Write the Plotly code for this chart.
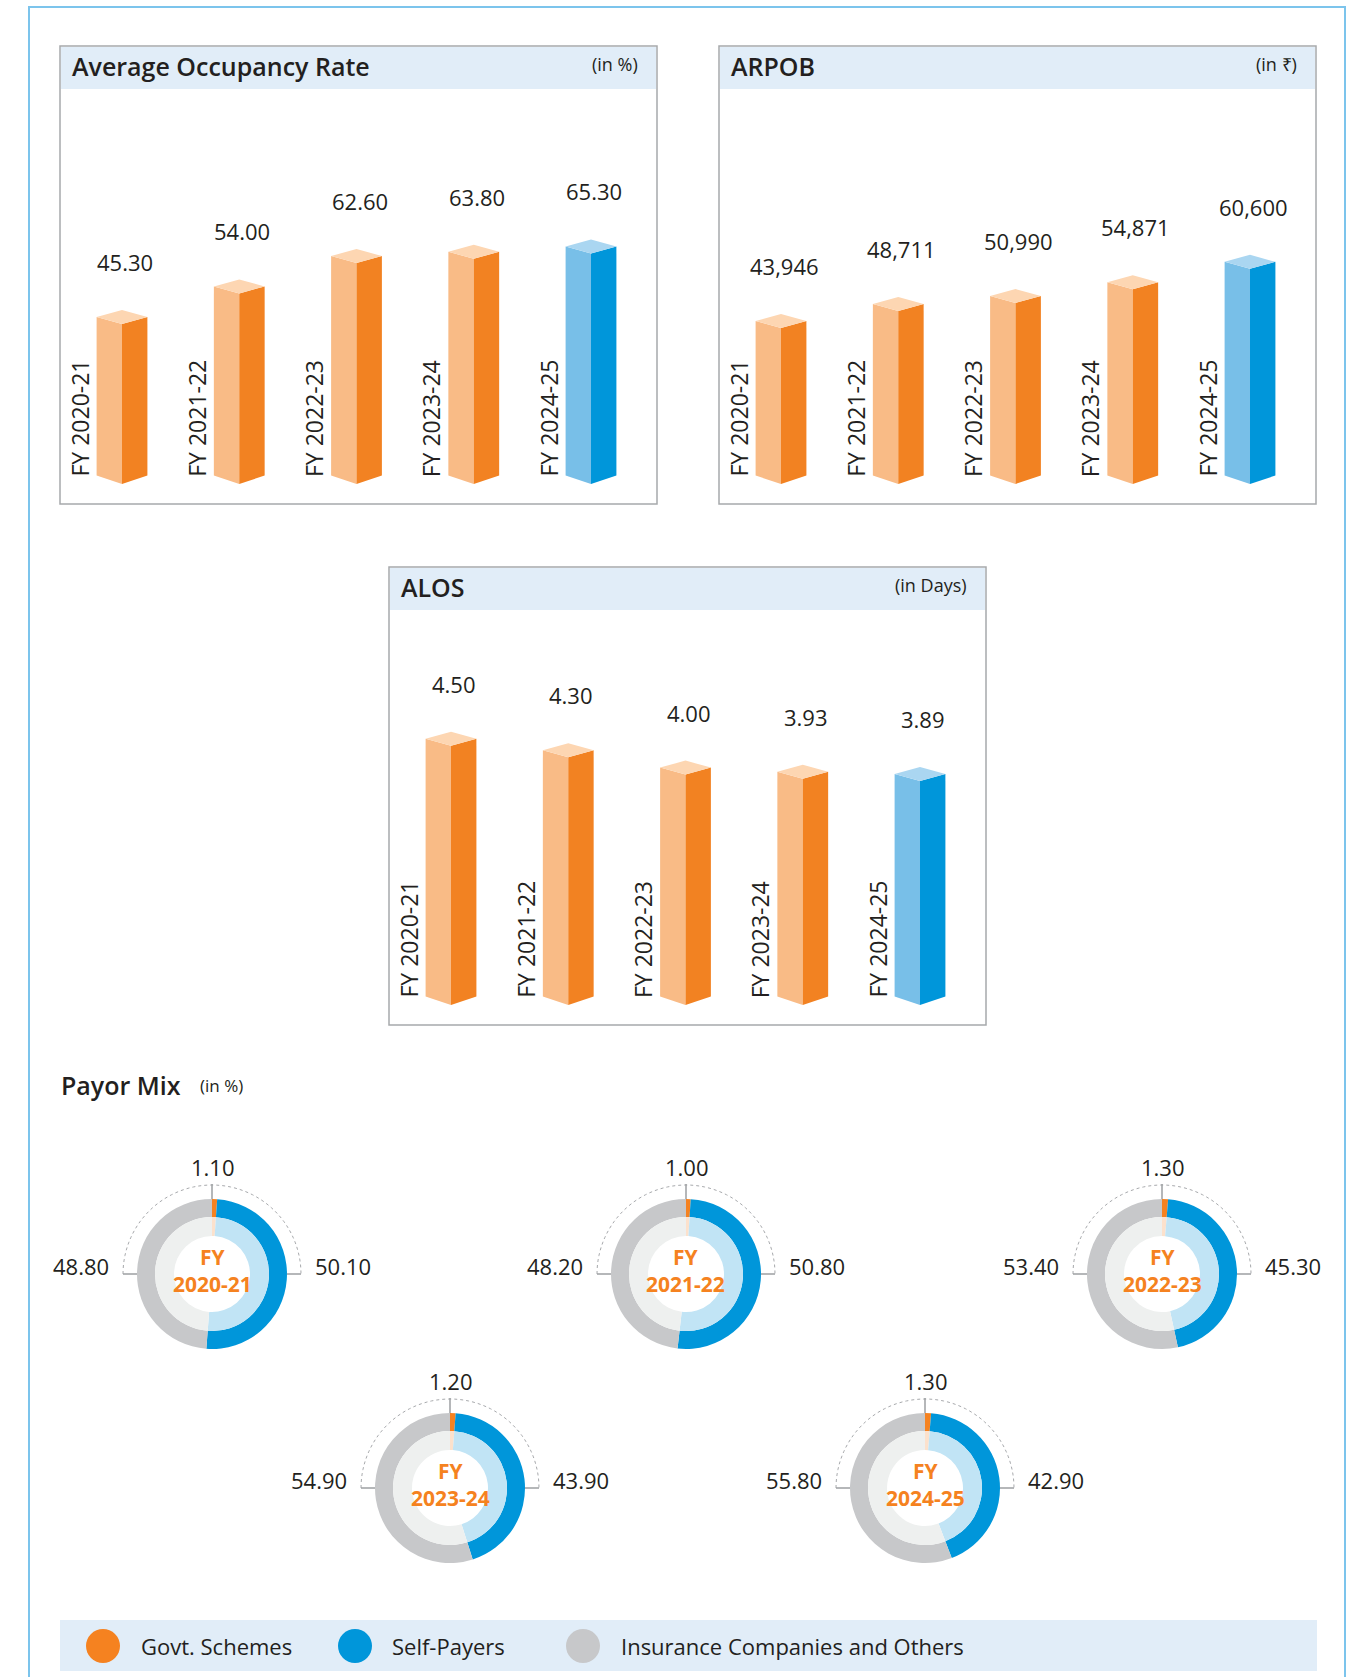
import math
import plotly.graph_objects as go

# ---------------- data ----------------
years = ["FY 2020-21", "FY 2021-22", "FY 2022-23", "FY 2023-24", "FY 2024-25"]
occupancy_rate = [45.30, 54.00, 62.60, 63.80, 65.30]
arpob = [43946, 48711, 50990, 54871, 60600]
alos = [4.50, 4.30, 4.00, 3.93, 3.89]

payor_labels = ["Govt. Schemes", "Self-Payers", "Insurance Companies and Others"]
payor_years = ["2020-21", "2021-22", "2022-23", "2023-24", "2024-25"]
govt_schemes = [1.10, 1.00, 1.30, 1.20, 1.30]
self_payers = [50.10, 50.80, 45.30, 43.90, 42.90]
insurance_others = [48.80, 48.20, 53.40, 54.90, 55.80]

# ---------------- style ----------------
W, H = 1361, 1677
FONT = "Open Sans"
TXT = "#231F20"
HEAD_BG = "#E1EDF8"
PANEL_LINE = "#A7A9AC"
OR_LEFT, OR_RIGHT, OR_TOP = "#F9BB86", "#F28222", "#FDD6B2"
BL_LEFT, BL_RIGHT, BL_TOP = "#78BFE8", "#0096DA", "#AAD6F1"
RING_OUT = ["#F58220", "#0096DA", "#C7C8CA"]
RING_IN = ["#FCE1CC", "#C1E4F5", "#EEF0EF"]


def px2x(x):
    return x / W


def px2y(y):
    return 1 - y / H


fig = go.Figure()
shapes = []
annotations = []
layout_axes = {}

# outer frame
shapes.append(dict(type="rect", xref="paper", yref="paper", x0=px2x(29), x1=px2x(1345),
                   y0=px2y(1700), y1=px2y(7), line=dict(color="#7CC4EC", width=2),
                   fillcolor="rgba(0,0,0,0)", layer="below"))

panels = [
    dict(title="Average Occupancy Rate", unit="(in %)", values=occupancy_rate,
         fmt=lambda v: f"{v:.2f}", scale=3.53, box=(60, 46, 657, 504)),
    dict(title="ARPOB", unit="(in ₹)", values=arpob,
         fmt=lambda v: f"{v:,}", scale=0.00355, box=(719, 46, 1316, 504)),
    dict(title="ALOS", unit="(in Days)", values=alos,
         fmt=lambda v: f"{v:.2f}", scale=57.6, box=(389, 567, 986, 1025)),
]

SPACING = 117.25
FIRST = 62
HALF_W = 25.4
DY_TOP = 7.0
DY_BOT = 8.5
BASE_OFF = 20
HEADER_H = 43
n = len(years)

for k, p in enumerate(panels):
    L, T, R, B = p["box"]
    ax = "" if k == 0 else str(k + 1)
    s = p["scale"]
    # panel frame + header
    shapes.append(dict(type="rect", xref="paper", yref="paper", x0=px2x(L), x1=px2x(R),
                       y0=px2y(B), y1=px2y(T), line=dict(color=PANEL_LINE, width=1.5),
                       fillcolor="white", layer="below"))
    shapes.append(dict(type="rect", xref="paper", yref="paper", x0=px2x(L + 1), x1=px2x(R - 1),
                       y0=px2y(T + HEADER_H), y1=px2y(T + 1), line=dict(width=0),
                       fillcolor=HEAD_BG, layer="below"))
    annotations.append(dict(x=px2x(L + 10), y=px2y(T + HEADER_H / 2 - 2), xref="paper", yref="paper",
                            text=p["title"], showarrow=False, xanchor="left", yanchor="middle",
                            font=dict(family=FONT, size=25, color=TXT, weight=600)))
    annotations.append(dict(x=px2x(R - 17), y=px2y(T + HEADER_H / 2 - 3), xref="paper", yref="paper",
                            text=p["unit"], showarrow=False, xanchor="right", yanchor="middle",
                            font=dict(family=FONT, size=18, color=TXT)))

    x_lo = L + FIRST - 0.5 * SPACING
    x_hi = L + FIRST + (n - 0.5) * SPACING
    base_px = B - BASE_OFF
    top_px = T + HEADER_H
    layout_axes[f"xaxis{ax}"] = dict(domain=[px2x(x_lo), px2x(x_hi)], range=[-0.5, n - 0.5],
                                     visible=False, fixedrange=True, anchor=f"y{ax}")
    layout_axes[f"yaxis{ax}"] = dict(domain=[px2y(B), px2y(top_px)],
                                     range=[-(B - base_px) / s, (base_px - top_px) / s],
                                     visible=False, fixedrange=True, anchor=f"x{ax}")
    w = HALF_W / SPACING
    dyt = DY_TOP / s
    dyb = DY_BOT / s
    for i, v in enumerate(p["values"]):
        hl = i == n - 1
        cl, cr, ct = (BL_LEFT, BL_RIGHT, BL_TOP) if hl else (OR_LEFT, OR_RIGHT, OR_TOP)
        faces = [
            ([i - w, i, i, i - w, i - w], [dyb, 0, v, v + dyt, dyb], cl),
            ([i, i + w, i + w, i, i], [0, dyb, v + dyt, v, 0], cr),
            ([i, i - w, i, i + w, i], [v, v + dyt, v + 2 * dyt, v + dyt, v], ct),
        ]
        for fx, fy, col in faces:
            fig.add_trace(go.Scatter(x=fx, y=fy, fill="toself", fillcolor=col, mode="lines",
                                     line=dict(width=0, color=col), xaxis=f"x{ax}", yaxis=f"y{ax}",
                                     hoverinfo="skip", showlegend=False))
        annotations.append(dict(x=i, y=v, xref=f"x{ax}", yref=f"y{ax}", text=p["fmt"](v),
                                showarrow=False, yshift=62, xshift=3, yanchor="middle",
                                font=dict(family=FONT, size=22, color=TXT)))
        annotations.append(dict(x=i, y=0, xref=f"x{ax}", yref=f"y{ax}", text=years[i],
                                textangle=-90, showarrow=False, xshift=-43, yanchor="bottom",
                                yshift=5, font=dict(family=FONT, size=23, color=TXT)))

# ---------------- payor mix ----------------
annotations.append(dict(x=px2x(59), y=px2y(1085), xref="paper", yref="paper", text="Payor Mix",
                        showarrow=False, xanchor="left", yanchor="middle",
                        font=dict(family=FONT, size=25, color=TXT, weight=600)))
annotations.append(dict(x=px2x(198), y=px2y(1085), xref="paper", yref="paper", text="(in %)",
                        showarrow=False, xanchor="left", yanchor="middle",
                        font=dict(family=FONT, size=17, color=TXT)))

centers = [(212, 1274), (686, 1274), (1162, 1274), (450, 1488), (925, 1488)]
R_OUT, R_MID, R_IN, R_ARC = 75, 57, 38, 89
ARC_COL = "#A7A9AC"
for j, (cx, cy) in enumerate(centers):
    vals = [govt_schemes[j], self_payers[j], insurance_others[j]]
    for r_out, hole, cols in [(R_OUT, R_MID / R_OUT, RING_OUT), (R_MID, R_IN / R_MID, RING_IN)]:
        fig.add_trace(go.Pie(values=vals, labels=payor_labels, hole=hole, sort=False,
                             direction="clockwise", rotation=0, textinfo="none",
                             marker=dict(colors=cols, line=dict(width=0)),
                             domain=dict(x=[px2x(cx - r_out), px2x(cx + r_out)],
                                         y=[px2y(cy + r_out), px2y(cy - r_out)]),
                             hovertemplate="%{label}: %{value:.2f}%<extra>FY " + payor_years[j] + "</extra>",
                             showlegend=False))
    # dotted arc over the top
    pts = []
    for a in range(0, 181, 3):
        t = math.radians(180 - a)
        pts.append((px2x(cx + R_ARC * math.cos(t)), px2y(cy - R_ARC * math.sin(t))))
    path = "M " + " L ".join(f"{x:.5f},{y:.5f}" for x, y in pts)
    shapes.append(dict(type="path", xref="paper", yref="paper", path=path,
                       line=dict(color=ARC_COL, width=1, dash="dot")))
    for (x0, y0, x1, y1) in [(cx, cy - R_OUT, cx, cy - R_ARC - 1),
                             (cx - R_ARC, cy, cx - R_OUT, cy),
                             (cx + R_OUT, cy, cx + R_ARC, cy)]:
        shapes.append(dict(type="line", xref="paper", yref="paper", x0=px2x(x0), y0=px2y(y0),
                           x1=px2x(x1), y1=px2y(y1), line=dict(color="#9D9FA2", width=1.5)))
    lab_font = dict(family=FONT, size=22, color=TXT)
    annotations.append(dict(x=px2x(cx + 1), y=px2y(cy - 107), xref="paper", yref="paper",
                            text=f"{vals[0]:.2f}", showarrow=False, xanchor="center", yanchor="middle",
                            font=lab_font))
    annotations.append(dict(x=px2x(cx + 101), y=px2y(cy - 8), xref="paper", yref="paper",
                            text=f"{vals[1]:.2f}", showarrow=False, xanchor="left", yanchor="middle",
                            font=lab_font))
    annotations.append(dict(x=px2x(cx - 101), y=px2y(cy - 8), xref="paper", yref="paper",
                            text=f"{vals[2]:.2f}", showarrow=False, xanchor="right", yanchor="middle",
                            font=lab_font))
    annotations.append(dict(x=px2x(cx), y=px2y(cy - 4), xref="paper", yref="paper",
                            text="FY<br>" + payor_years[j], showarrow=False, xanchor="center",
                            yanchor="middle", font=dict(family=FONT, size=21, color="#F58220", weight=700)))

# ---------------- legend band ----------------
shapes.append(dict(type="rect", xref="paper", yref="paper", x0=px2x(60), x1=px2x(1317),
                   y0=px2y(1671), y1=px2y(1620), line=dict(width=0), fillcolor=HEAD_BG, layer="below"))
legend_pos = [(103, 139), (355, 390), (583, 619)]
for (ccx, tx), col, lab in zip(legend_pos, RING_OUT, payor_labels):
    r = 17
    shapes.append(dict(type="circle", xref="paper", yref="paper", x0=px2x(ccx - r), x1=px2x(ccx + r),
                       y0=px2y(1646 + r), y1=px2y(1646 - r), line=dict(width=0), fillcolor=col))
    annotations.append(dict(x=px2x(tx), y=px2y(1646), xref="paper", yref="paper", text=lab,
                            showarrow=False, xanchor="left", yanchor="middle",
                            font=dict(family=FONT, size=22, color=TXT)))

fig.update_layout(
    width=W, height=H, autosize=False,
    margin=dict(l=0, r=0, t=0, b=0, pad=0),
    paper_bgcolor="white", plot_bgcolor="rgba(0,0,0,0)",
    shapes=shapes, annotations=annotations, showlegend=False,
    font=dict(family=FONT, color=TXT),
    **layout_axes,
)

fig.write_html("out.html", config={"displayModeBar": False},
               post_script="document.body.style.margin='0';document.body.style.overflow='hidden';")
